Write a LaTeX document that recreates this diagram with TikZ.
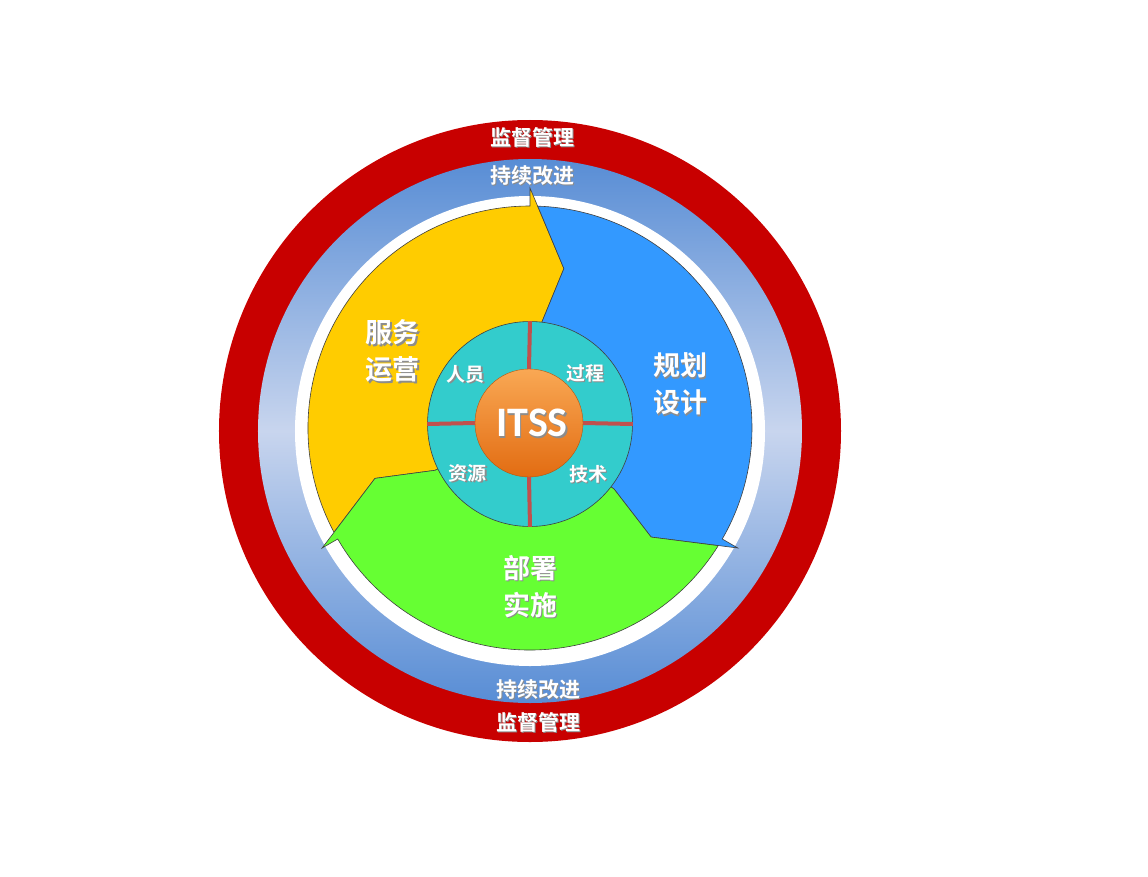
\documentclass[tikz,border=0pt]{standalone}
\usepackage{fontspec}
\newfontfamily\cjkb{Noto Sans CJK SC Bold}
\newfontfamily\itssfont{Carlito}[BoldFont={Carlito Bold}]
\usetikzlibrary{calc}

\definecolor{ringred}{RGB}{200,0,0}
\definecolor{ringblue}{RGB}{88,141,213}
\definecolor{ringlight}{RGB}{200,213,238}
\definecolor{armyellow}{RGB}{255,204,0}
\definecolor{armblue}{RGB}{51,153,255}
\definecolor{armgreen}{RGB}{102,255,51}
\definecolor{hubteal}{RGB}{51,204,204}
\definecolor{spoke}{RGB}{192,80,77}
\definecolor{ballhi}{RGB}{249,168,84}
\definecolor{balllo}{RGB}{226,108,18}

% white text with a soft shadow
\newcommand\shd[1]{\makebox[0pt][l]{\kern1.5pt\raisebox{-1.5pt}{\textcolor{black!45}{#1}}}#1}

\begin{document}
\begin{tikzpicture}[x=1pt,y=1pt]
    \tikzstyle{every node}=[text=white, inner sep=0pt]
    \tikzstyle{ringtext}=[font=\cjkb\fontsize{21}{21}\selectfont]
    \tikzstyle{armtext}=[font=\cjkb\fontsize{27}{37}\selectfont, align=center]
    \tikzstyle{hubtext}=[font=\cjkb\fontsize{19}{19}\selectfont]
    \tikzstyle{arm}=[draw=black!75, line width=0.6pt, line join=miter]
    \tikzstyle{spokeline}=[spoke, line width=4pt]
    \useasboundingbox (-530,-445) rectangle (618,431);

     \fill[ringred] (0,0) circle (311);
     \shade[top color=ringblue, bottom color=ringblue, middle color=ringlight] (0,0) circle (272);
     \fill[white] (0,0) circle (235);

     \begin{scope}[shift={(0,3)}]
     \filldraw[arm, fill=armyellow] (208:222) arc[start angle=208, end angle=90, radius=222] -- (90:240) -- (78:163) -- (84:104) -- (0,0) -- (204:104) -- (198:163) -- cycle;
     \filldraw[arm, fill=armblue] (88:222) arc[start angle=88, end angle=-30, radius=222] -- (-30:240) -- (-42:163) -- (-36:104) -- (0,0) -- (84:104) -- (78:163) -- cycle;
     \filldraw[arm, fill=armgreen] (328:222) arc[start angle=328, end angle=210, radius=222] -- (210:240) -- (198:163) -- (204:104) -- (0,0) -- (324:104) -- (318:163) -- cycle;
     \end{scope}

     \node[circle, minimum size=205pt, fill=hubteal, draw=black!75, line width=0.6pt] (hub) at (0,7) {};
     \node[circle, minimum size=108pt, top color=ballhi, bottom color=balllo, draw=balllo!80!black, line width=0.4pt] (itss) at (-1,8) {};
     \draw[spokeline] (itss.north) -- (hub.north);
     \draw[spokeline] (itss.south) -- (hub.south);
     \draw[spokeline] (itss.west) -- (hub.west);
     \draw[spokeline] (itss.east) -- (hub.east);
     \node[font=\itssfont\bfseries\fontsize{42}{42}\selectfont] (itsslabel) at (2,7) {\shd{ITSS}};

     \node[ringtext] (supTop) at (2,293) {\shd{监督管理}};
     \node[ringtext] (impTop) at (2,255) {\shd{持续改进}};
     \node[ringtext] (impBot) at (8,-259) {\shd{持续改进}};
     \node[ringtext] (supBot) at (8,-292) {\shd{监督管理}};

     \node[armtext] (operate) at (-137,79) {\shd{服务}\\\shd{运营}};
     \node[armtext] (design) at (150,46) {\shd{规划}\\\shd{设计}};
     \node[armtext] (deploy) at (0,-156) {\shd{部署}\\\shd{实施}};

     \node[hubtext] (people) at (-64,56) {\shd{人员}};
     \node[hubtext] (process) at (55,57) {\shd{过程}};
     \node[hubtext] (resource) at (-62,-43) {\shd{资源}};
     \node[hubtext] (tech) at (58,-44) {\shd{技术}};
    \end{tikzpicture}
\end{document}
